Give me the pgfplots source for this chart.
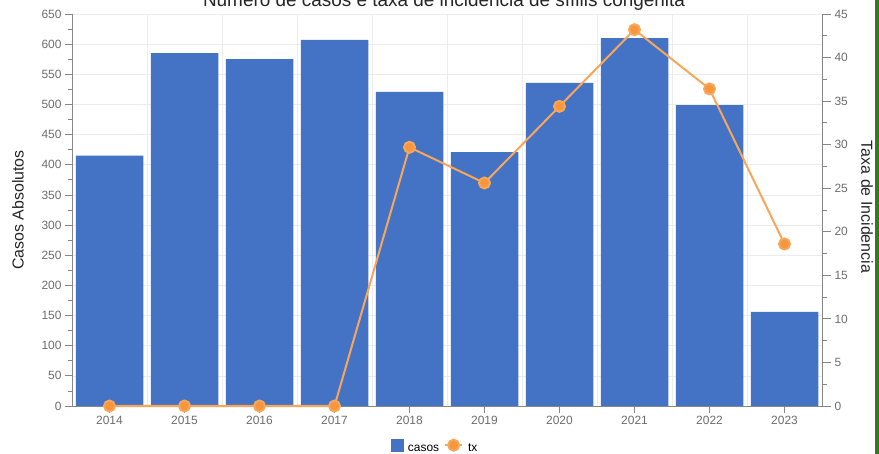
\documentclass[border=0pt]{standalone}
\usepackage{pgfplots}
\pgfplotsset{compat=1.18}
\usepackage{fontspec}
\setmainfont{Liberation Sans}

\definecolor{barblue}{RGB}{68,114,196}
\definecolor{txorange}{RGB}{247,150,60}
\definecolor{tickgray}{RGB}{110,110,110}
\definecolor{axisgray}{RGB}{135,135,135}
\definecolor{gridgray}{RGB}{236,236,236}
\definecolor{framegreen}{RGB}{52,122,32}

\pgfplotsset{
  base/.style={
    scale only axis, width=750bp, height=392bp,
    at={(72bp,48bp)}, anchor=south west,
    xmin=-0.5, xmax=9.5,
    tick align=outside,
    tick label style={font=\fontsize{12}{14}\selectfont, color=tickgray},
    /pgf/number format/assume math mode=true,
    axis line style={axisgray, line width=0.8pt},
    tick style={axisgray, line width=0.8pt},
  },
  txlegend/.style={legend image code/.code={%
    \draw[mark repeat=2,mark phase=2,##1] plot coordinates {(0bp,3.5bp) (8.5bp,3.5bp) (17bp,3.5bp)};}},
  barlegend/.style={legend image code/.code={%
    \fill[barblue] (0bp,-2.5bp) rectangle (12bp,9.5bp);}},
}

\begin{document}
\begin{tikzpicture}
\fill[white] (0bp,0bp) rectangle (879bp,454bp);

% casos (eixo esquerdo)
\begin{axis}[base,
    ymin=0, ymax=650,
    ytick={0,50,...,650}, minor y tick num=1,
    major tick length=7bp, minor tick length=4bp,
    axis x line*=bottom, axis y line*=left,
    xtick={0,...,9},
    xticklabels={2014,2015,2016,2017,2018,2019,2020,2021,2022,2023},
    ymajorgrids, major grid style={gridgray, line width=0.6pt},
    extra x ticks={0.5,1.5,...,9.5}, extra x tick labels={},
    extra x tick style={grid=major, major tick length=0pt},
  ]
  \addplot[ybar, bar width=0.9, fill=barblue, draw=none] coordinates {
    (0,415) (1,585) (2,575) (3,607) (4,521)
    (5,421) (6,536) (7,610) (8,499) (9,156)
  };
\end{axis}

% tx (eixo direito)
\begin{axis}[base,
    ymin=0, ymax=45,
    ytick={0,5,...,45}, minor y tick num=1,
    major tick length=9bp, minor tick length=5bp,
    axis y line*=right, axis x line=none,
    clip=false,
    legend style={at={(0.484,-0.105)}, anchor=center, draw=none, fill=none,
      legend columns=-1, font=\fontsize{12}{14}\selectfont,
      column sep=3bp},
  ]
  \addlegendimage{barlegend}
  \addlegendentry{casos}
  \addplot[txorange!85!white, line width=2bp, mark=*, mark size=5.5bp,
    mark options={fill=txorange, draw=none}, txlegend]
    coordinates {
    (0,0) (1,0) (2,0) (3,0) (4,29.7)
    (5,25.6) (6,34.4) (7,43.2) (8,36.4) (9,18.6)
  };
  \addlegendentry{tx}
\end{axis}

\node[anchor=base, font=\fontsize{19}{22}\selectfont, color=black!85] at (444bp,447bp)
  {Número de casos e taxa de incidência de sífilis congênita};
\node[rotate=90, font=\fontsize{16}{18}\selectfont, color=black!85] at (18bp,244bp) {Casos Absolutos};
\node[rotate=-90, font=\fontsize{16}{18}\selectfont, color=black!85] at (867bp,247bp) {Taxa de Incidencia};

\fill[framegreen] (875bp,0bp) rectangle (879bp,454bp);

\pgfresetboundingbox
\path (0bp,0bp) rectangle (879bp,454bp);
\end{tikzpicture}
\end{document}
